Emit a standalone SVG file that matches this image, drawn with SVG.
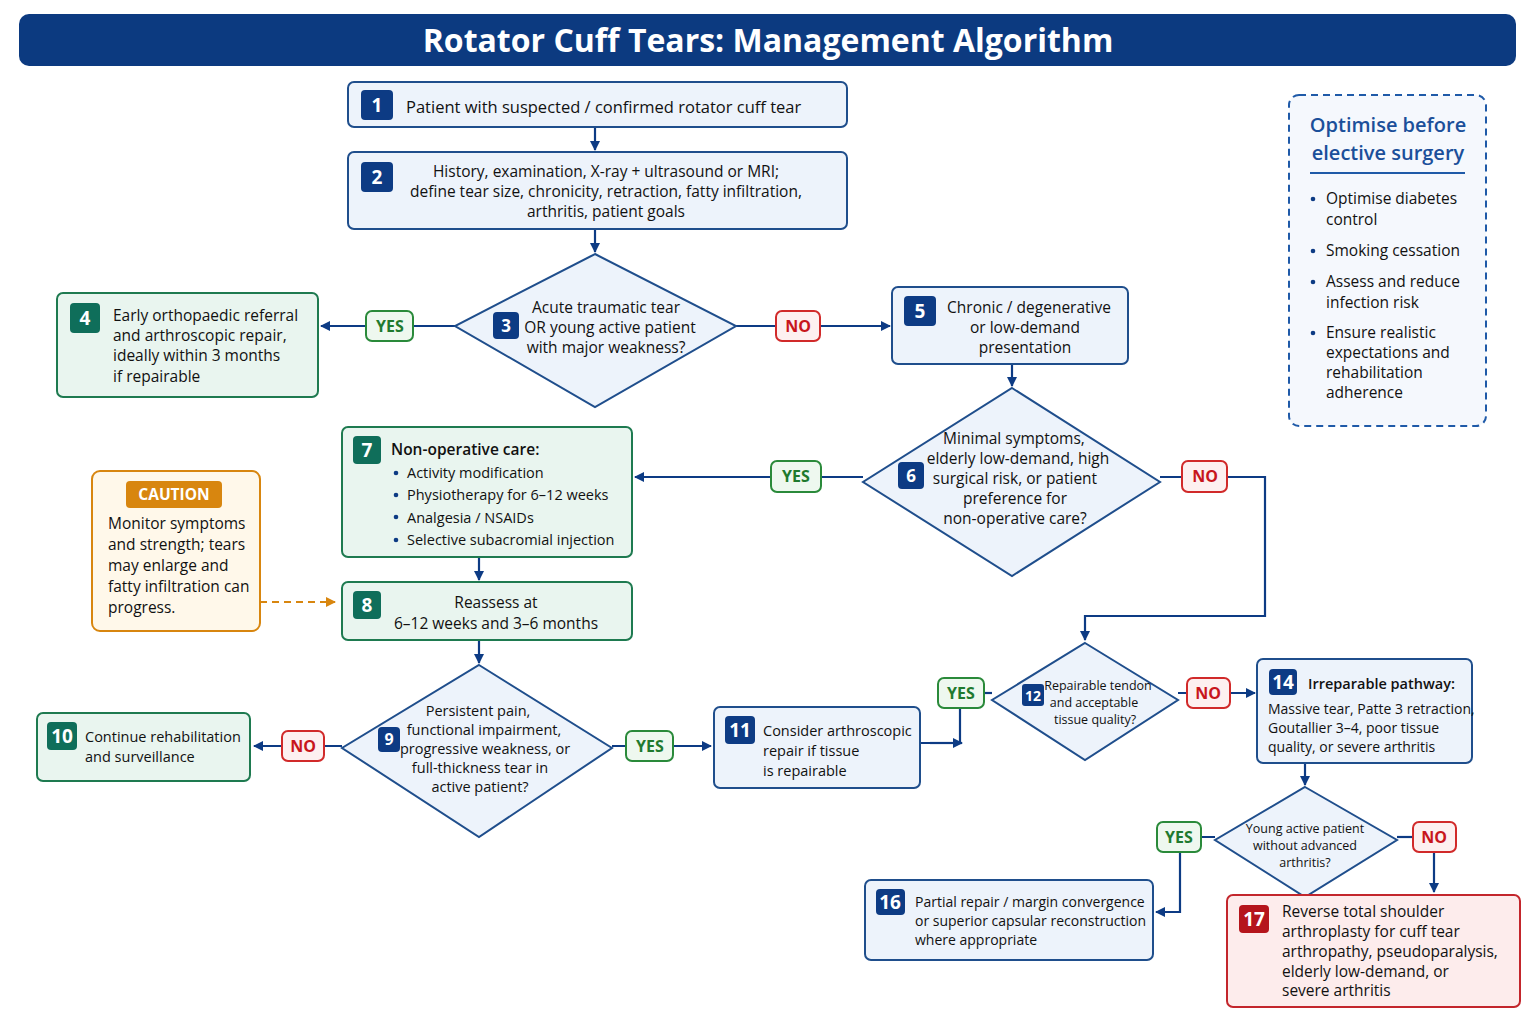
<svg xmlns="http://www.w3.org/2000/svg" width="1536" height="1024" viewBox="0 0 1536 1024">
<defs>
<marker id="ah" markerWidth="10" markerHeight="10" refX="9" refY="5" orient="auto" markerUnits="userSpaceOnUse"><path d="M0,0 L10,5 L0,10 z" fill="#0d3b84"/></marker>
<marker id="ao" markerWidth="10" markerHeight="10" refX="9" refY="5" orient="auto" markerUnits="userSpaceOnUse"><path d="M0,0 L10,5 L0,10 z" fill="#d8860f"/></marker>
<style>
text{font-family:"Open Sans","Liberation Sans",sans-serif;fill:#111;}
.b{fill:#edf3fb;stroke:#1f4e8c;stroke-width:2;}
.g{fill:#e9f5ef;stroke:#1e7a50;stroke-width:2;}
.r{fill:#fdecec;stroke:#c3262c;stroke-width:2;}
.bb{fill:#0d3b84;}
.gb{fill:#0f6e5a;}
.rb{fill:#b5151c;}
.num{fill:#fff;font-weight:bold;font-size:19px;text-anchor:middle;}
.t{font-size:15.5px;}
.s{font-size:12.5px;}
.c{text-anchor:middle;}
.ln{fill:none;stroke:#0d3b84;stroke-width:2.2;}
.yes{fill:#eef8ef;stroke:#2a8a3a;stroke-width:2;}
.no{fill:#fdf0f0;stroke:#d12a2a;stroke-width:2;}
.yt{fill:#1f7a2e;font-weight:bold;font-size:16px;text-anchor:middle;}
.nt{fill:#c8161c;font-weight:bold;font-size:16px;text-anchor:middle;}
</style>
</defs>
<rect width="1536" height="1024" fill="#fff"/>
<rect x="19" y="14" width="1497" height="52" rx="10" fill="#0c3a80"/>
<text x="768" y="52" text-anchor="middle" style="fill:#fff;font-weight:bold;font-size:32px">Rotator Cuff Tears: Management Algorithm</text>

<g id="connectors">
<line class="ln" x1="595" y1="127" x2="595" y2="150" marker-end="url(#ah)"/>
<line class="ln" x1="595" y1="229" x2="595" y2="252" marker-end="url(#ah)"/>
<line class="ln" x1="455" y1="326" x2="321" y2="326" marker-end="url(#ah)"/>
<line class="ln" x1="736" y1="326" x2="890" y2="326" marker-end="url(#ah)"/>
<line class="ln" x1="1012" y1="364" x2="1012" y2="386" marker-end="url(#ah)"/>
<line class="ln" x1="863" y1="477" x2="635" y2="477" marker-end="url(#ah)"/>
<path class="ln" d="M1160,477 H1265 V616 H1085 V640" marker-end="url(#ah)"/>
<line class="ln" x1="479" y1="557" x2="479" y2="580" marker-end="url(#ah)"/>
<line x1="260" y1="602" x2="335" y2="602" stroke="#d8860f" stroke-width="2" stroke-dasharray="7,5" marker-end="url(#ao)"/>
<line class="ln" x1="479" y1="640" x2="479" y2="663" marker-end="url(#ah)"/>
<line class="ln" x1="342" y1="746" x2="254" y2="746" marker-end="url(#ah)"/>
<line class="ln" x1="612" y1="746" x2="711" y2="746" marker-end="url(#ah)"/>
<line class="ln" x1="984" y1="693" x2="992" y2="693"/>
<path class="ln" d="M960,708 V743 H920"/>
<line class="ln" x1="930" y1="743" x2="962" y2="743" marker-end="url(#ah)"/>
<line class="ln" x1="1178" y1="693" x2="1255" y2="693" marker-end="url(#ah)"/>
<line class="ln" x1="1305" y1="763" x2="1305" y2="785" marker-end="url(#ah)"/>
<path class="ln" d="M1215,837 H1180 V912 H1156" marker-end="url(#ah)"/>
<path class="ln" d="M1397,837 H1413"/>
<line class="ln" x1="1434" y1="852" x2="1434" y2="892" marker-end="url(#ah)"/>
<rect class="yes" x="366" y="311" width="47" height="30" rx="6"/><text class="yt" x="390" y="332">YES</text>
<rect class="no" x="776" y="311" width="44" height="30" rx="6"/><text class="nt" x="798" y="332">NO</text>
<rect class="yes" x="771" y="461" width="50" height="31" rx="6"/><text class="yt" x="796" y="482">YES</text>
<rect class="no" x="1182" y="461" width="45" height="31" rx="6"/><text class="nt" x="1205" y="482">NO</text>
<rect class="no" x="282" y="731" width="42" height="30" rx="6"/><text class="nt" x="303" y="752">NO</text>
<rect class="yes" x="626" y="731" width="47" height="30" rx="6"/><text class="yt" x="650" y="752">YES</text>
<rect class="yes" x="938" y="678" width="46" height="30" rx="6"/><text class="yt" x="961" y="699">YES</text>
<rect class="no" x="1187" y="678" width="43" height="30" rx="6"/><text class="nt" x="1208" y="699">NO</text>
<rect class="yes" x="1157" y="822" width="44" height="30" rx="6"/><text class="yt" x="1179" y="843">YES</text>
<rect class="no" x="1413" y="822" width="43" height="30" rx="6"/><text class="nt" x="1434" y="843">NO</text>
</g>

<g id="n1"><rect class="b" x="348" y="82" width="499" height="45" rx="6"/><rect class="bb" x="361" y="90" width="32" height="30" rx="4"/><text class="num" x="377" y="112">1</text>
<text class="t" x="406" y="113" style="font-size:16.5px">Patient with suspected / confirmed rotator cuff tear</text></g>

<g id="n2"><rect class="b" x="348" y="152" width="499" height="77" rx="6"/><rect class="bb" x="361" y="162" width="32" height="30" rx="4"/><text class="num" x="377" y="184">2</text>
<text class="t c" x="606" y="177">History, examination, X-ray + ultrasound or MRI;</text>
<text class="t c" x="606" y="197">define tear size, chronicity, retraction, fatty infiltration,</text>
<text class="t c" x="606" y="217">arthritis, patient goals</text></g>

<g id="n3"><polygon class="b" points="595,254 736,326 595,407 455,326"/><rect class="bb" x="493" y="312" width="26" height="27" rx="4"/><text class="num" x="506" y="332" style="font-size:17px">3</text>
<text class="t c" x="606" y="313">Acute traumatic tear</text><text class="t c" x="610" y="333">OR young active patient</text><text class="t c" x="606" y="353">with major weakness?</text></g>

<g id="n4"><rect class="g" x="57" y="293" width="261" height="104" rx="6"/><rect class="gb" x="70" y="303" width="30" height="30" rx="4"/><text class="num" x="85" y="325">4</text>
<text class="t" x="113" y="321">Early orthopaedic referral</text><text class="t" x="113" y="341">and arthroscopic repair,</text><text class="t" x="113" y="361">ideally within 3 months</text><text class="t" x="113" y="382">if repairable</text></g>

<g id="n5"><rect class="b" x="892" y="287" width="236" height="77" rx="6"/><rect class="bb" x="904" y="296" width="32" height="30" rx="4"/><text class="num" x="920" y="318">5</text>
<text class="t c" x="1029" y="313">Chronic / degenerative</text><text class="t c" x="1025" y="333">or low-demand</text><text class="t c" x="1025" y="353">presentation</text></g>

<g id="n6"><polygon class="b" points="1012,388 1160,482 1012,576 863,482"/><rect class="bb" x="898" y="462" width="26" height="27" rx="4"/><text class="num" x="911" y="482" style="font-size:17px">6</text>
<text class="t c" x="1014" y="444">Minimal symptoms,</text><text class="t c" x="1018" y="464">elderly low-demand, high</text><text class="t c" x="1015" y="484">surgical risk, or patient</text><text class="t c" x="1015" y="504">preference for</text><text class="t c" x="1015" y="524">non-operative care?</text></g>

<g id="n7"><rect class="g" x="342" y="427" width="290" height="130" rx="6"/><rect class="gb" x="353" y="436" width="28" height="28" rx="4"/><text class="num" x="367" y="457">7</text>
<text class="t" x="391" y="455" style="font-weight:600">Non-operative care:</text>
<g style="font-size:14.5px"><circle cx="396" cy="473" r="2.3" fill="#0d3b84"/><text x="407" y="478" style="font-size:14.5px">Activity modification</text>
<circle cx="396" cy="495" r="2.3" fill="#0d3b84"/><text x="407" y="500" style="font-size:14.5px">Physiotherapy for 6–12 weeks</text>
<circle cx="396" cy="517" r="2.3" fill="#0d3b84"/><text x="407" y="523" style="font-size:14.5px">Analgesia / NSAIDs</text>
<circle cx="396" cy="540" r="2.3" fill="#0d3b84"/><text x="407" y="545" style="font-size:14.5px">Selective subacromial injection</text></g></g>

<g id="caution"><rect x="92" y="471" width="168" height="160" rx="8" fill="#fff8ea" stroke="#d8860f" stroke-width="2"/><rect x="126" y="481" width="96" height="27" rx="4" fill="#d8860f"/><text x="174" y="500" text-anchor="middle" style="fill:#fff;font-weight:bold;font-size:15.5px">CAUTION</text>
<text class="t" x="108" y="529">Monitor symptoms</text><text class="t" x="108" y="550">and strength; tears</text><text class="t" x="108" y="571">may enlarge and</text><text class="t" x="108" y="592">fatty infiltration can</text><text class="t" x="108" y="613">progress.</text></g>

<g id="n8"><rect class="g" x="342" y="582" width="290" height="58" rx="6"/><rect class="gb" x="353" y="591" width="28" height="28" rx="4"/><text class="num" x="367" y="612">8</text>
<text class="t c" x="496" y="608">Reassess at</text><text class="t c" x="496" y="629">6–12 weeks and 3–6 months</text></g>

<g id="n9"><polygon class="b" points="479,665 612,748 479,837 342,748"/><rect class="bb" x="378" y="727" width="22" height="25" rx="4"/><text class="num" x="389" y="745" style="font-size:16px">9</text>
<g style="font-size:14.5px"><text class="c" x="478" y="716" style="font-size:14.5px">Persistent pain,</text><text class="c" x="484" y="735" style="font-size:14.5px">functional impairment,</text><text class="c" x="485" y="754" style="font-size:14.5px">progressive weakness, or</text><text class="c" x="480" y="773" style="font-size:14.5px">full-thickness tear in</text><text class="c" x="480" y="792" style="font-size:14.5px">active patient?</text></g></g>

<g id="n10"><rect class="g" x="37" y="713" width="213" height="68" rx="6"/><rect class="gb" x="47" y="722" width="30" height="28" rx="4"/><text class="num" x="62" y="743">10</text>
<text class="t" x="85" y="742" style="font-size:14.5px">Continue rehabilitation</text><text class="t" x="85" y="762" style="font-size:14.5px">and surveillance</text></g>

<g id="n11"><rect class="b" x="714" y="707" width="206" height="81" rx="6"/><rect class="bb" x="725" y="716" width="30" height="28" rx="4"/><text class="num" x="740" y="737">11</text>
<text class="t" x="763" y="736" style="font-size:14.5px">Consider arthroscopic</text><text class="t" x="763" y="756" style="font-size:14.5px">repair if tissue</text><text class="t" x="763" y="776" style="font-size:14.5px">is repairable</text></g>

<g id="n12"><polygon class="b" points="1085,643 1178,700 1085,760 992,700"/><rect class="bb" x="1022" y="684" width="22" height="22" rx="3"/><text class="num" x="1033" y="701" style="font-size:14px">12</text>
<text class="s c" x="1098" y="690">Repairable tendon</text><text class="s c" x="1094" y="707">and acceptable</text><text class="s c" x="1095" y="724">tissue quality?</text></g>

<g id="n14"><rect class="b" x="1257" y="659" width="215" height="104" rx="6"/><rect class="bb" x="1269" y="669" width="28" height="26" rx="4"/><text class="num" x="1283" y="689">14</text>
<text class="t" x="1308" y="689" style="font-size:14.5px;font-weight:600">Irreparable pathway:</text>
<text x="1268" y="714" style="font-size:14px">Massive tear, Patte 3 retraction,</text><text x="1268" y="733" style="font-size:14px">Goutallier 3–4, poor tissue</text><text x="1268" y="752" style="font-size:14px">quality, or severe arthritis</text></g>

<g id="n15"><polygon class="b" points="1305,787 1397,840 1305,897 1215,840"/>
<text class="s c" x="1305" y="833">Young active patient</text><text class="s c" x="1305" y="850">without advanced</text><text class="s c" x="1305" y="867">arthritis?</text></g>

<g id="n16"><rect class="b" x="865" y="880" width="288" height="80" rx="6"/><rect class="bb" x="876" y="889" width="29" height="26" rx="4"/><text class="num" x="890" y="909">16</text>
<text x="915" y="907" style="font-size:14px">Partial repair / margin convergence</text><text x="915" y="926" style="font-size:14px">or superior capsular reconstruction</text><text x="915" y="945" style="font-size:14px">where appropriate</text></g>

<g id="n17"><rect class="r" x="1227" y="895" width="293" height="112" rx="6"/><rect class="rb" x="1239" y="905" width="30" height="28" rx="4"/><text class="num" x="1254" y="926">17</text>
<text class="t" x="1282" y="917">Reverse total shoulder</text><text class="t" x="1282" y="937">arthroplasty for cuff tear</text><text class="t" x="1282" y="957">arthropathy, pseudoparalysis,</text><text class="t" x="1282" y="977">elderly low-demand, or</text><text class="t" x="1282" y="996">severe arthritis</text></g>

<g id="sidebar"><rect x="1289" y="95" width="197" height="331" rx="10" fill="#f5f8fd" stroke="#1f5aa8" stroke-width="2" stroke-dasharray="7,5"/>
<text x="1388" y="132" text-anchor="middle" style="fill:#1b4f9a;font-weight:600;font-size:20px">Optimise before</text>
<text x="1388" y="160" text-anchor="middle" style="fill:#1b4f9a;font-weight:600;font-size:20px">elective surgery</text>
<line x1="1310" y1="173" x2="1465" y2="173" stroke="#1f5aa8" stroke-width="2"/>
<circle cx="1313" cy="199" r="2.3" fill="#0d3b84"/><text class="t" x="1326" y="204">Optimise diabetes</text><text class="t" x="1326" y="225">control</text>
<circle cx="1313" cy="251" r="2.3" fill="#0d3b84"/><text class="t" x="1326" y="256">Smoking cessation</text>
<circle cx="1313" cy="282" r="2.3" fill="#0d3b84"/><text class="t" x="1326" y="287">Assess and reduce</text><text class="t" x="1326" y="308">infection risk</text>
<circle cx="1313" cy="333" r="2.3" fill="#0d3b84"/><text class="t" x="1326" y="338">Ensure realistic</text><text class="t" x="1326" y="358">expectations and</text><text class="t" x="1326" y="378">rehabilitation</text><text class="t" x="1326" y="398">adherence</text></g>
</svg>
